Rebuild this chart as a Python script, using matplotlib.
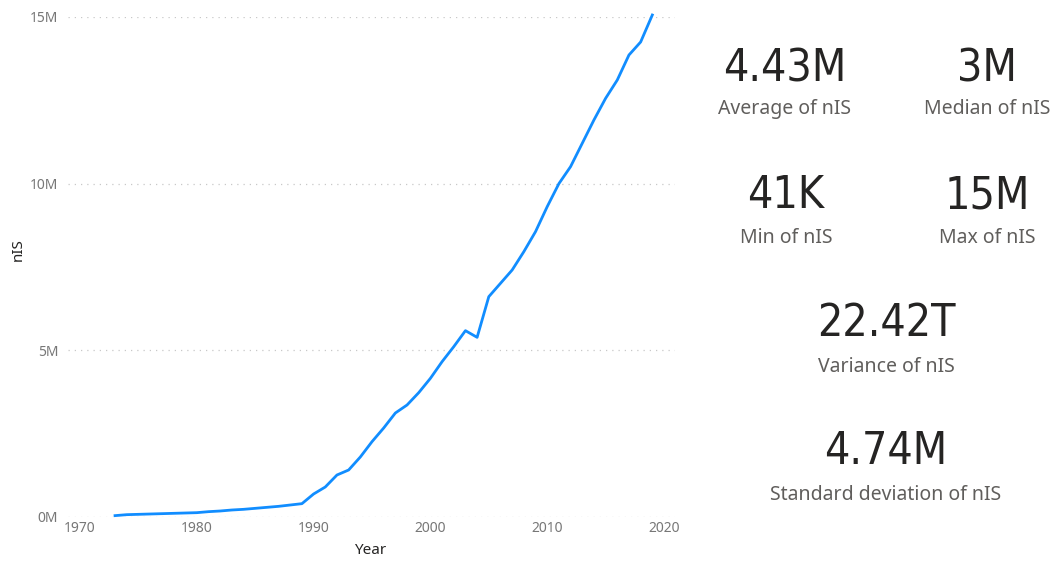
import matplotlib
matplotlib.use("Agg")
import matplotlib.pyplot as plt
from matplotlib.ticker import FuncFormatter

years = list(range(1973, 2020))
nis_millions = [0.041, 0.07, 0.08, 0.09, 0.10, 0.11, 0.12, 0.13, 0.16, 0.18,
                0.21, 0.23, 0.26, 0.29, 0.32, 0.36, 0.40,
                0.69, 0.90, 1.26, 1.41, 1.80, 2.26, 2.67, 3.12, 3.36, 3.73,
                4.16, 4.66, 5.11, 5.59, 5.39, 6.61, 7.01, 7.41, 7.96, 8.56,
                9.31, 10.00, 10.51, 11.21, 11.91, 12.56, 13.11, 13.86, 14.25, 15.06]
y_ticks = [0, 5, 10, 15]
x_ticks = [1970, 1980, 1990, 2000, 2010, 2020]

card_values = ["4.43M", "3M", "41K", "15M", "22.42T", "4.74M"]
card_labels = ["Average of nIS", "Median of nIS", "Min of nIS", "Max of nIS",
               "Variance of nIS", "Standard deviation of nIS"]
card_pos = [(785, 69, 109), (987, 69, 109), (786, 196, 238), (987, 196, 238),
            (886, 324, 367), (886, 452, 495)]

W, H = 1057, 561
fig = plt.figure(figsize=(W / 100, H / 100), dpi=100)
plt.rcParams['font.family'] = ['Noto Sans', 'DejaVu Sans']

left_px, right_px, top_px, bot_px = 68, 675, 17, 517
ax = fig.add_axes([left_px / W, 1 - bot_px / H, (right_px - left_px) / W, (bot_px - top_px) / H])
px_per_year = (664 - 80) / 50.0
x0 = 1970 - (80 - left_px) / px_per_year
x1 = 2020 + (right_px - 664) / px_per_year
ax.set_xlim(x0, x1)
ax.set_ylim(0, 15)

ax.plot(years, nis_millions, color="#118DFF", lw=2.0, clip_on=False, solid_joinstyle="round")

ax.set_yticks(y_ticks)
ax.set_xticks(x_ticks)
ax.yaxis.set_major_formatter(FuncFormatter(lambda v, p: f"{int(v)}M"))
ax.grid(axis="y", color="#c8c8c8", linestyle=(0, (1, 4)), lw=0.9)
ax.set_axisbelow(True)
for s in ax.spines.values():
    s.set_visible(False)
ax.tick_params(axis="both", length=0, colors="#777777", labelsize=10)
ax.tick_params(axis="y", pad=7)
ax.tick_params(axis="x", pad=3)
ax.set_xlabel("Year", fontsize=11, color="#252423")
ax.set_ylabel("nIS", fontsize=11, color="#252423")
ax.xaxis.set_label_coords((370 - left_px) / (right_px - left_px), -(550 - bot_px) / (bot_px - top_px))
ax.yaxis.set_label_coords(-(left_px - 18) / (right_px - left_px), (bot_px - 250) / (bot_px - top_px))
ax.xaxis.label.set_va("center")
ax.yaxis.label.set_va("center")

for v, lab, (cx, vy, ly) in zip(card_values, card_labels, card_pos):
    fig.text(cx / W, 1 - vy / H, v, ha="center", va="center", fontsize=32,
             color="#252423", family="DejaVu Sans", fontstretch="condensed")
    fig.text(cx / W, 1 - ly / H, lab, ha="center", va="center", fontsize=14,
             color="#605E5C")

fig.savefig("out.png", dpi=100, facecolor="white")
